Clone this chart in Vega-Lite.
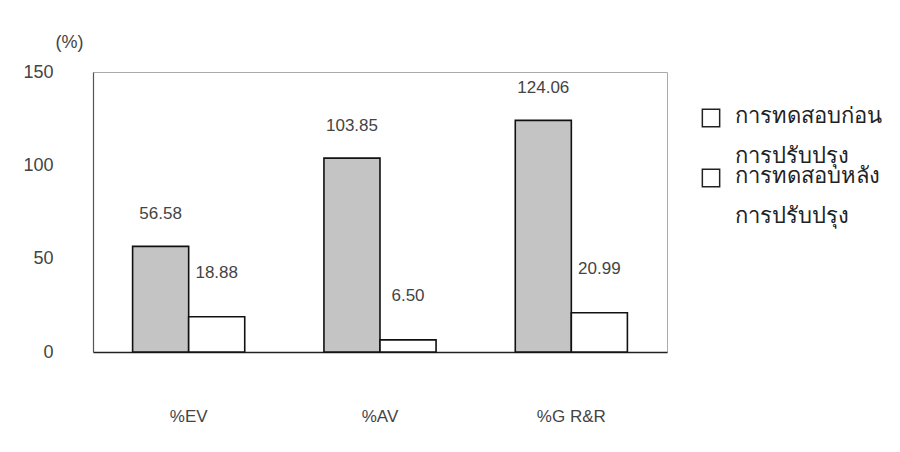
{
  "$schema": "https://vega.github.io/schema/vega-lite/v6.json",
  "width": 574,
  "height": 280,
  "autosize": {"type": "none"},
  "padding": {"left": 93, "top": 72, "right": 233, "bottom": 100},
  "background": "white",
  "config": {
    "font": "Liberation Sans",
    "view": {"stroke": "#aaaaaa", "strokeWidth": 1}
  },
  "data": {
    "values": [
      {"metric": "%EV", "test": "การทดสอบก่อน|การปรับปรุง", "value": 56.58},
      {"metric": "%EV", "test": "การทดสอบหลัง|การปรับปรุง", "value": 18.88},
      {"metric": "%AV", "test": "การทดสอบก่อน|การปรับปรุง", "value": 103.85},
      {"metric": "%AV", "test": "การทดสอบหลัง|การปรับปรุง", "value": 6.50},
      {"metric": "%G R&R", "test": "การทดสอบก่อน|การปรับปรุง", "value": 124.06},
      {"metric": "%G R&R", "test": "การทดสอบหลัง|การปรับปรุง", "value": 20.99}
    ]
  },
  "encoding": {
    "x": {
      "field": "metric", "type": "nominal", "sort": ["%EV", "%AV", "%G R&R"],
      "scale": {"paddingInner": 0.414, "paddingOuter": 0.207},
      "axis": {
        "title": null, "labelAngle": 0, "ticks": false, "domain": true,
        "domainColor": "#222", "domainWidth": 1.5,
        "labelFontSize": 17, "labelColor": "#444", "labelPadding": 56
      }
    },
    "xOffset": {"field": "test", "type": "nominal", "scale": {"paddingInner": 0, "paddingOuter": 0}},
    "y": {
      "field": "value", "type": "quantitative",
      "scale": {"domain": [0, 150], "nice": false},
      "axis": {
        "values": [0, 50, 100, 150], "grid": false, "ticks": false,
        "domain": true, "domainColor": "#555", "domainWidth": 1.2,
        "labelFontSize": 18, "labelColor": "#444", "labelPadding": 40,
        "title": "(%)", "titleAngle": 0, "titleX": -24, "titleY": -30,
        "titleAlign": "center", "titleBaseline": "middle",
        "titleFontSize": 18, "titleFontWeight": "normal", "titleColor": "#444"
      }
    }
  },
  "layer": [
    {
      "mark": {"type": "bar", "stroke": "#111", "strokeWidth": 1.6},
      "encoding": {
        "fill": {
          "field": "test", "type": "nominal",
          "scale": {"domain": ["การทดสอบก่อน|การปรับปรุง", "การทดสอบหลัง|การปรับปรุง"], "range": ["#c4c4c4", "#ffffff"]},
          "legend": {
            "title": null, "orient": "none", "legendX": 607, "legendY": 35,
            "symbolType": "square", "symbolSize": 300, "symbolStrokeColor": "#222",
            "symbolStrokeWidth": 1.5,
            "labelFontSize": 22, "labelColor": "#222",
            "labelExpr": "split(datum.label, '|')", "labelLimit": 300,
            "rowPadding": -22, "labelOffset": 13,
            "encode": {
              "symbols": {"update": {"fillOpacity": {"value": 0}, "stroke": {"value": "#222"}, "strokeWidth": {"value": 1.5}}},
              "labels": {"update": {"lineHeight": {"value": 40}, "baseline": {"value": "top"}, "dy": {"value": -12}}}
            }
          }
        }
      }
    },
    {
      "transform": [{"filter": "indexof(datum.test, 'ก่อน') >= 0"}],
      "mark": {"type": "text", "baseline": "middle", "dy": -32, "fontSize": 17},
      "encoding": {"text": {"field": "value", "type": "quantitative", "format": ".2f"}, "fill": {"value": "#444"}}
    },
    {
      "transform": [{"filter": "indexof(datum.test, 'หลัง') >= 0"}],
      "mark": {"type": "text", "baseline": "middle", "dy": -44, "fontSize": 17},
      "encoding": {"text": {"field": "value", "type": "quantitative", "format": ".2f"}, "fill": {"value": "#444"}}
    }
  ]
}
